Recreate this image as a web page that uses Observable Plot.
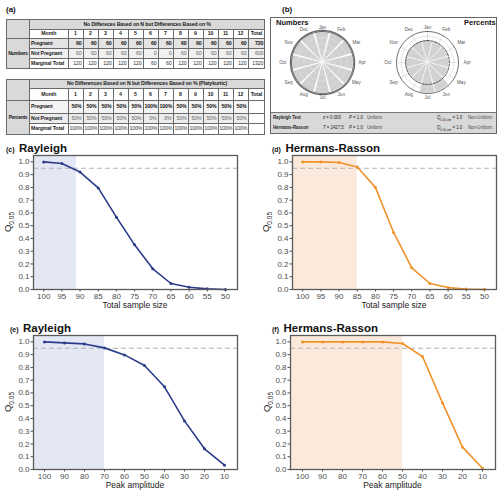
<!DOCTYPE html>
<html><head><meta charset="utf-8">
<script src="https://cdn.jsdelivr.net/npm/d3@7"></script>
<script src="https://cdn.jsdelivr.net/npm/@observablehq/plot@0.6"></script>
<style>
body{margin:0;background:#fff;}
#root{position:relative;width:500px;height:495px;overflow:hidden;font-family:"Liberation Sans",Arial,sans-serif;}
.abs{position:absolute;white-space:nowrap;}
table.t{position:absolute;border-collapse:collapse;table-layout:fixed;font-family:"Liberation Sans",sans-serif;font-size:5.2px;letter-spacing:-0.12px;color:#1a1a1a;}
table.t td{border:1px solid #6a6a6a;padding:0 1px;overflow:hidden;white-space:nowrap;line-height:1;}
.ptitle{position:absolute;font-weight:bold;color:#111;white-space:nowrap;font-family:"Liberation Sans",sans-serif;}
.ptitle small{font-size:7px;}
.stat{position:absolute;font-size:5.4px;color:#222;white-space:nowrap;font-family:"Liberation Sans",sans-serif;transform:scaleX(0.8);transform-origin:0 0;}
</style></head>
<body><div id="root"></div>
<script>
// ---------- data ----------
const months = [1,2,3,4,5,6,7,8,9,10,11,12];
const monthNames = ["Jan","Feb","Mar","Apr","May","Jun","Jul","Aug","Sep","Oct","Nov","Dec"];
const pregnantN = [60,60,60,60,60,60,60,60,60,60,60,60];
const notPregnantN = [60,60,60,60,60,0,0,60,60,60,60,60];
const marginalN = [120,120,120,120,120,60,60,120,120,120,120,120];
const totalsN = [720,600,1320];
const pregnantPct = [50,50,50,50,50,100,100,50,50,50,50,50];
const notPregnantPct = [50,50,50,50,50,0,0,50,50,50,50,50];
const marginalPct = [100,100,100,100,100,100,100,100,100,100,100,100];

const sampleSizes = [100,95,90,85,80,75,70,65,60,55,50];
const rayleighBySize = [1.0,0.987,0.92,0.796,0.567,0.35,0.162,0.047,0.018,0.005,0.0];
const hrBySize = [1.0,1.0,0.995,0.96,0.80,0.447,0.17,0.047,0.015,0.004,0.0];
const amplitudes = [100,90,80,70,60,50,40,30,20,10];
const rayleighByAmp = [1.0,0.992,0.984,0.953,0.898,0.815,0.648,0.381,0.162,0.034];
const hrByAmp = [1.0,1.0,1.0,1.0,1.0,0.987,0.885,0.522,0.175,0.01];
const bandEnds = [91, 85, 70, 50];
const yTicks = [0,0.1,0.2,0.3,0.4,0.5,0.6,0.7,0.8,0.9,1.0];
const threshold = 0.95;

const root = document.getElementById("root");
function div(cls, html, style){const d=document.createElement("div");d.className=cls;d.innerHTML=html;Object.assign(d.style,style);root.appendChild(d);return d;}

// ---------- tables ----------
const GREY="#d9d9d9";
function cell(tr,text,st,attrs){const c=document.createElement("td");c.textContent=text;Object.assign(c.style,st||{});if(attrs)for(const k in attrs)c.setAttribute(k,attrs[k]);tr.appendChild(c);return c;}
function buildTable(top, heights, header, sideLabel, rows, totals, rowBgs){
  const t=document.createElement("table");t.className="t";t.style.left="6px";t.style.top=top+"px";t.style.width="258px";
  const cg=document.createElement("colgroup");
  [23,38.5].concat(months.map(()=>15)).concat([16.5]).forEach(w=>{const c=document.createElement("col");c.style.width=w+"px";cg.appendChild(c);});
  t.appendChild(cg);
  const trs=heights.map(h=>{const tr=document.createElement("tr");tr.style.height=h+"px";t.appendChild(tr);return tr;});
  cell(trs[0],"",{background:GREY},{rowspan:2});
  cell(trs[0],header,{background:GREY,textAlign:"center",fontWeight:"bold"},{colspan:14});
  cell(trs[1],"Month",{textAlign:"center",fontWeight:"bold"});
  months.forEach(m=>cell(trs[1],String(m),{textAlign:"center",fontWeight:"bold"}));
  cell(trs[1],"Total",{textAlign:"center",fontWeight:"bold"});
  cell(trs[2],sideLabel,{background:GREY,fontWeight:"bold",textAlign:"center",padding:"0",letterSpacing:"-0.3px",fontSize:"5px"},{rowspan:3});
  rows.forEach((r,i)=>{
    const tr=trs[i+2];
    cell(tr,r.label,{fontWeight:"bold",background:rowBgs[i]});
    r.values.forEach(v=>cell(tr,r.fmt(v),{textAlign:"right",fontWeight:r.bold?"bold":"normal",color:r.color,background:rowBgs[i]}));
    cell(tr,totals?String(totals[i]):"",{textAlign:"right",fontWeight:r.bold?"bold":"normal",color:r.color,background:totals?rowBgs[i]:"#fff"});
  });
  root.appendChild(t);
}
buildTable(19,[10,9,10,10,10],"No Differeces Based on N but Differences Based on %","Numbers",[
  {label:"Pregnant",values:pregnantN,fmt:String,bold:true,color:"#111"},
  {label:"Not Pregnant",values:notPregnantN,fmt:String,bold:false,color:"#666"},
  {label:"Marginal Total",values:marginalN,fmt:String,bold:false,color:"#333"}],totalsN,["#e4e4e4","#f0f0f0","#fff"]);
buildTable(79,[9,12,13,10,11],"No Differences Based on N but Differences Based on % (Platykurtic)","Percents",[
  {label:"Pregnant",values:pregnantPct,fmt:v=>v+"%",bold:true,color:"#111"},
  {label:"Not Pregnant",values:notPregnantPct,fmt:v=>v+"%",bold:false,color:"#666"},
  {label:"Marginal Total",values:marginalPct,fmt:v=>v+"%",bold:false,color:"#333"}],null,["#f4f4f4","#ececec","#fff"]);

div("ptitle","(a)",{left:"6px",top:"5px",fontSize:"8px"});
div("ptitle","(b)",{left:"282px",top:"5px",fontSize:"8px"});

// ---------- panel b ----------
div("abs","",{left:"270px",top:"17px",width:"225px",height:"115px",border:"1px solid #666"});
div("abs","",{left:"271px",top:"112px",width:"225px",height:"20px",background:"#d9d9d9",borderTop:"1px solid #777"});

function rose(o){
  const R=31, W=112, H=96, hx=W/2/R, hy=H/2/R;
  const deg=Math.PI/180, gap=o.gap;
  const wedgePts=o.values.flatMap((v,i)=>d3.range(9).map(k=>({m:i,a:(i*30-15+gap+k*(30-2*gap)/8)*deg,r:o.radius(v)})));
  const ringPts=r=>d3.range(73).map(k=>({r,a:k*5*deg}));
  const rings=o.rings.flatMap(ringPts);
  const marks=[];
  if(o.spokes) marks.push(Plot.link(monthNames,{x1:0,y1:0,x2:(d,i)=>Math.sin(i*30*deg),y2:(d,i)=>Math.cos(i*30*deg),stroke:"#cfcfcf",strokeWidth:0.6}));
  marks.push(
    Plot.area(wedgePts,{x1:d=>d.r*Math.sin(d.a),y1:d=>d.r*Math.cos(d.a),x2:0,y2:0,z:"m",fill:o.fill,stroke:"white",strokeWidth:o.wedgeStroke}),
    Plot.line(rings,{x:d=>d.r*Math.sin(d.a),y:d=>d.r*Math.cos(d.a),z:"r",stroke:o.ringColor,strokeWidth:0.5}),
    Plot.line(ringPts(1),{x:d=>Math.sin(d.a),y:d=>Math.cos(d.a),stroke:"#4a4a4a",strokeWidth:0.8})
  );
  if(o.dashed!=null) marks.push(Plot.line(ringPts(o.dashed),{x:d=>o.dashed*Math.sin(d.a),y:d=>o.dashed*Math.cos(d.a),stroke:"#333",strokeWidth:0.8,strokeDasharray:"2.2,1.4"}));
  if(o.rim) marks.push(Plot.line(ringPts(1.035),{x:d=>1.035*Math.sin(d.a),y:d=>1.035*Math.cos(d.a),stroke:"#666",strokeWidth:1.4,strokeDasharray:"0.6,1.1"}));
  marks.push(Plot.text(monthNames,{x:(d,i)=>(1.14+0.14*Math.abs(Math.sin(i*30*deg)))*Math.sin(i*30*deg),y:(d,i)=>(1.14+0.14*Math.abs(Math.sin(i*30*deg)))*Math.cos(i*30*deg),text:d=>d,fontSize:4.6,fill:"#555"}));
  const svg=Plot.plot({width:W,height:H,margin:0,x:{domain:[-hx,hx],axis:null},y:{domain:[-hy,hy],axis:null},
    style:{background:"transparent",fontFamily:"Liberation Sans, sans-serif",overflow:"visible"},marks});
  svg.style.position="absolute";svg.style.left=(o.cx-W/2)+"px";svg.style.top=(o.cy-H/2)+"px";
  root.appendChild(svg);
}
rose({values:pregnantN,radius:v=>Math.sqrt(v/d3.max(pregnantN)),cx:322,cy:62,fill:"#d0d0d0",gap:1.4,wedgeStroke:0.6,rings:[0.2,0.4,0.6,0.8],ringColor:"#e6e6e6",spokes:false,rim:true,dashed:null});
rose({values:pregnantPct,radius:v=>Math.sqrt(v/100),cx:427,cy:62,fill:"#d2d2d2",gap:0.6,wedgeStroke:0.4,rings:[0.35,0.85],ringColor:"#c8c8c8",spokes:true,rim:false,dashed:Math.sqrt(0.5)});

div("ptitle","Numbers",{left:"276px",top:"18px",fontSize:"7.5px"});
div("ptitle","Percents",{left:"464px",top:"18px",fontSize:"7.5px"});

const statRows=[
  {name:"Rayleigh Test",stat:"<i>z</i> = 0.000",p:"<i>P</i> = 1.0",res:"Uniform",q:"1.0",qres:"Non-Uniform",y:114},
  {name:"Hermans-Rasson",stat:"<i>T</i> = 2427.5",p:"<i>P</i> = 1.0",res:"Uniform",q:"1.0",qres:"Non-Uniform",y:123.5}];
statRows.forEach(r=>{
  div("stat","<b>"+r.name+"</b>",{left:"273px",top:r.y+"px"});
  div("stat",r.stat,{left:"323px",top:r.y+"px"});
  div("stat",r.p,{left:"349px",top:r.y+"px"});
  div("stat",r.res,{left:"367px",top:r.y+"px",color:"#444"});
  div("stat","<i>Q</i><sub style='font-size:3.6px'>0.05,sim</sub> = "+r.q,{left:"437px",top:r.y+"px"});
  div("stat",r.qres,{left:"468px",top:r.y+"px",color:"#444"});
});

// ---------- line charts ----------
const BLUE="#2d3c88", ORANGE="#f0922a";
function lineChart(o){
  const data=o.xs.map((x,i)=>({x,y:o.ys[i]}));
  const svg=Plot.plot({
    width:o.w,height:o.h,marginLeft:o.ml,marginRight:o.mr,marginTop:o.mt,marginBottom:o.mb,
    style:{background:"transparent",color:"#4d4d4d",fontSize:"8px",fontFamily:"Liberation Sans, Arial, sans-serif",overflow:"visible"},
    x:{type:"linear",domain:o.xDomain,ticks:o.xs,tickFormat:d=>String(d),tickSize:2.5,tickPadding:1.5,label:null},
    y:{domain:[0,1.05],ticks:yTicks,tickFormat:d=>d.toFixed(1),tickSize:2.5,tickPadding:1.5,label:null},
    marks:[
      Plot.rect([o.band],{x1:()=>o.xDomain[0],x2:d=>d,y1:0,y2:1.05,fill:o.bandColor}),
      Plot.ruleY([threshold],{stroke:"#b3b3b3",strokeWidth:1,strokeDasharray:"5,3"}),
      Plot.line(data,{x:"x",y:"y",stroke:o.color,strokeWidth:1.6}),
      Plot.dot(data,{x:"x",y:"y",fill:o.color,r:1.5}),
      Plot.frame({stroke:"#5a5a5a",strokeWidth:1.3})
    ]
  });
  const s=d3.select(svg);
  const midY=o.mt+(o.h-o.mt-o.mb)/2, midX=o.ml+(o.w-o.ml-o.mr)/2;
  const q=s.append("text").attr("transform",`translate(${o.qx},${midY}) rotate(-90)`).attr("text-anchor","middle")
    .attr("fill","#222").attr("font-size","9.5px").attr("font-family","Liberation Sans, Arial, sans-serif");
  q.append("tspan").text("Q");
  q.append("tspan").attr("font-size","6.5px").attr("dy","2.5").text("0.05");
  s.append("text").attr("x",midX).attr("y",o.h-o.mb+19).attr("text-anchor","middle").attr("fill","#222")
    .attr("font-size","8.5px").attr("font-family","Liberation Sans, Arial, sans-serif").text(o.xLabel);
  svg.style.position="absolute";svg.style.left=o.left+"px";svg.style.top=o.top+"px";
  root.appendChild(svg);
}
lineChart({left:0,top:148,w:250,h:162,ml:33,mr:13,mt:7,mb:21,xs:sampleSizes,ys:rayleighBySize,xDomain:[102.8,46.7],band:bandEnds[0],color:BLUE,bandColor:"#e3e8f4",xLabel:"Total sample size",qx:11});
lineChart({left:250,top:148,w:250,h:162,ml:42,mr:4,mt:7,mb:21,xs:sampleSizes,ys:hrBySize,xDomain:[102.8,46.7],band:bandEnds[1],color:ORANGE,bandColor:"#fbeadc",xLabel:"Total sample size",qx:19});
lineChart({left:0,top:328,w:250,h:167,ml:33,mr:13,mt:7,mb:26,xs:amplitudes,ys:rayleighByAmp,xDomain:[105.5,3.5],band:bandEnds[2],color:BLUE,bandColor:"#e3e8f4",xLabel:"Peak amplitude",qx:11});
lineChart({left:250,top:328,w:250,h:167,ml:40,mr:5,mt:7,mb:26,xs:amplitudes,ys:hrByAmp,xDomain:[106,3.5],band:bandEnds[3],color:ORANGE,bandColor:"#fbeadc",xLabel:"Peak amplitude",qx:20});

div("ptitle","<small>(c)</small> <span style='font-size:11.5px'>Rayleigh</span>",{left:"6px",top:"138px"});
div("ptitle","<small>(d)</small> <span style='font-size:11.5px'>Hermans-Rasson</span>",{left:"272px",top:"138px"});
div("ptitle","<small>(e)</small> <span style='font-size:11.5px'>Rayleigh</span>",{left:"10px",top:"318px"});
div("ptitle","<small>(f)</small> <span style='font-size:11.5px'>Hermans-Rasson</span>",{left:"272px",top:"318px"});
</script>
</body></html>
